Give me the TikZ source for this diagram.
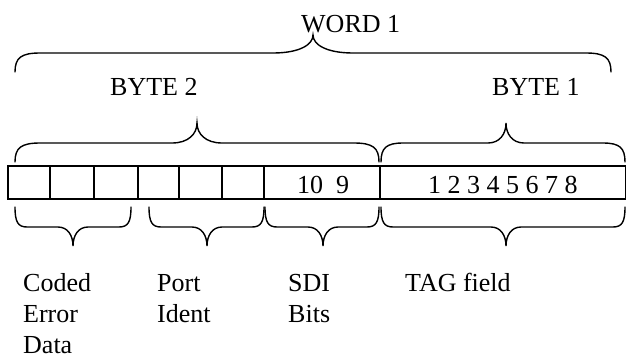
\documentclass[tikz,border=0pt]{standalone}
\usepackage{fontspec}
\setmainfont{Liberation Serif}
\newcommand\mybrace[8]{% x1 x2 xtip yend yh ytip r t
  \draw[bracestyle] (#1,#4) .. controls (#1,{#5+0.25*(#4-#5)}) and ({#1+0.25*#7},#5) .. ({#1+#7},#5)
    -- ({#3-#8},#5) .. controls ({#3-0.35*#8},#5) and (#3,{#5+0.45*(#6-#5)}) .. (#3,#6)
    .. controls (#3,{#5+0.45*(#6-#5)}) and ({#3+0.35*#8},#5) .. ({#3+#8},#5)
    -- ({#2-#7},#5) .. controls ({#2-0.25*#7},#5) and (#2,{#5+0.25*(#4-#5)}) .. (#2,#4);}
\begin{document}
\begin{tikzpicture}[x=1pt,y=-1pt,
  bracestyle/.style={line width=1.4pt,line cap=round},
  cell/.style={line width=1.4pt},
  lbl/.style={inner sep=0pt,font=\fontsize{26}{31}\selectfont},
  multi/.style={lbl,align=left,anchor=base west}]
\useasboundingbox (0,0) rectangle (626,360);
% texts
\node[lbl,anchor=base west] (word) at (301,32) {WORD 1};
\node[lbl,anchor=base west] (byte2) at (110,95) {BYTE 2};
\node[lbl,anchor=base west] (byte1) at (492,95) {BYTE 1};
% braces
\mybrace{15}{611}{313}{72}{53}{35}{25}{40}
\mybrace{15}{379}{197}{162}{143}{123}{25}{25}
\mybrace{381}{625}{506}{162}{143}{123}{22}{18}
% register
\draw[cell] (8,166) rectangle (626,199);
\foreach \x in {50,94,138,179,222,264,380}
  \draw[cell] (\x,166) -- (\x,199);
\node[lbl,anchor=base west] (sdinum) at (297,193) {10~~9};
\node[lbl,anchor=base west] (tagnum) at (428,193) {1 2 3 4 5 6 7 8};
% lower braces
\mybrace{15}{131}{73}{207}{227}{246}{12}{15}
\mybrace{149}{264}{207}{207}{227}{246}{12}{15}
\mybrace{265}{379}{323}{207}{227}{246}{12}{15}
\mybrace{381}{625}{506}{207}{227}{246}{12}{15}
% labels (base anchor = baseline of the last line)
\node[multi] (coded) at (23,353) {Coded\\Error\\Data};
\node[multi] (port) at (157,322) {Port\\Ident};
\node[multi] (sdi) at (288,322) {SDI\\Bits};
\node[multi] (tag) at (405,291) {TAG field};
\end{tikzpicture}
\end{document}
